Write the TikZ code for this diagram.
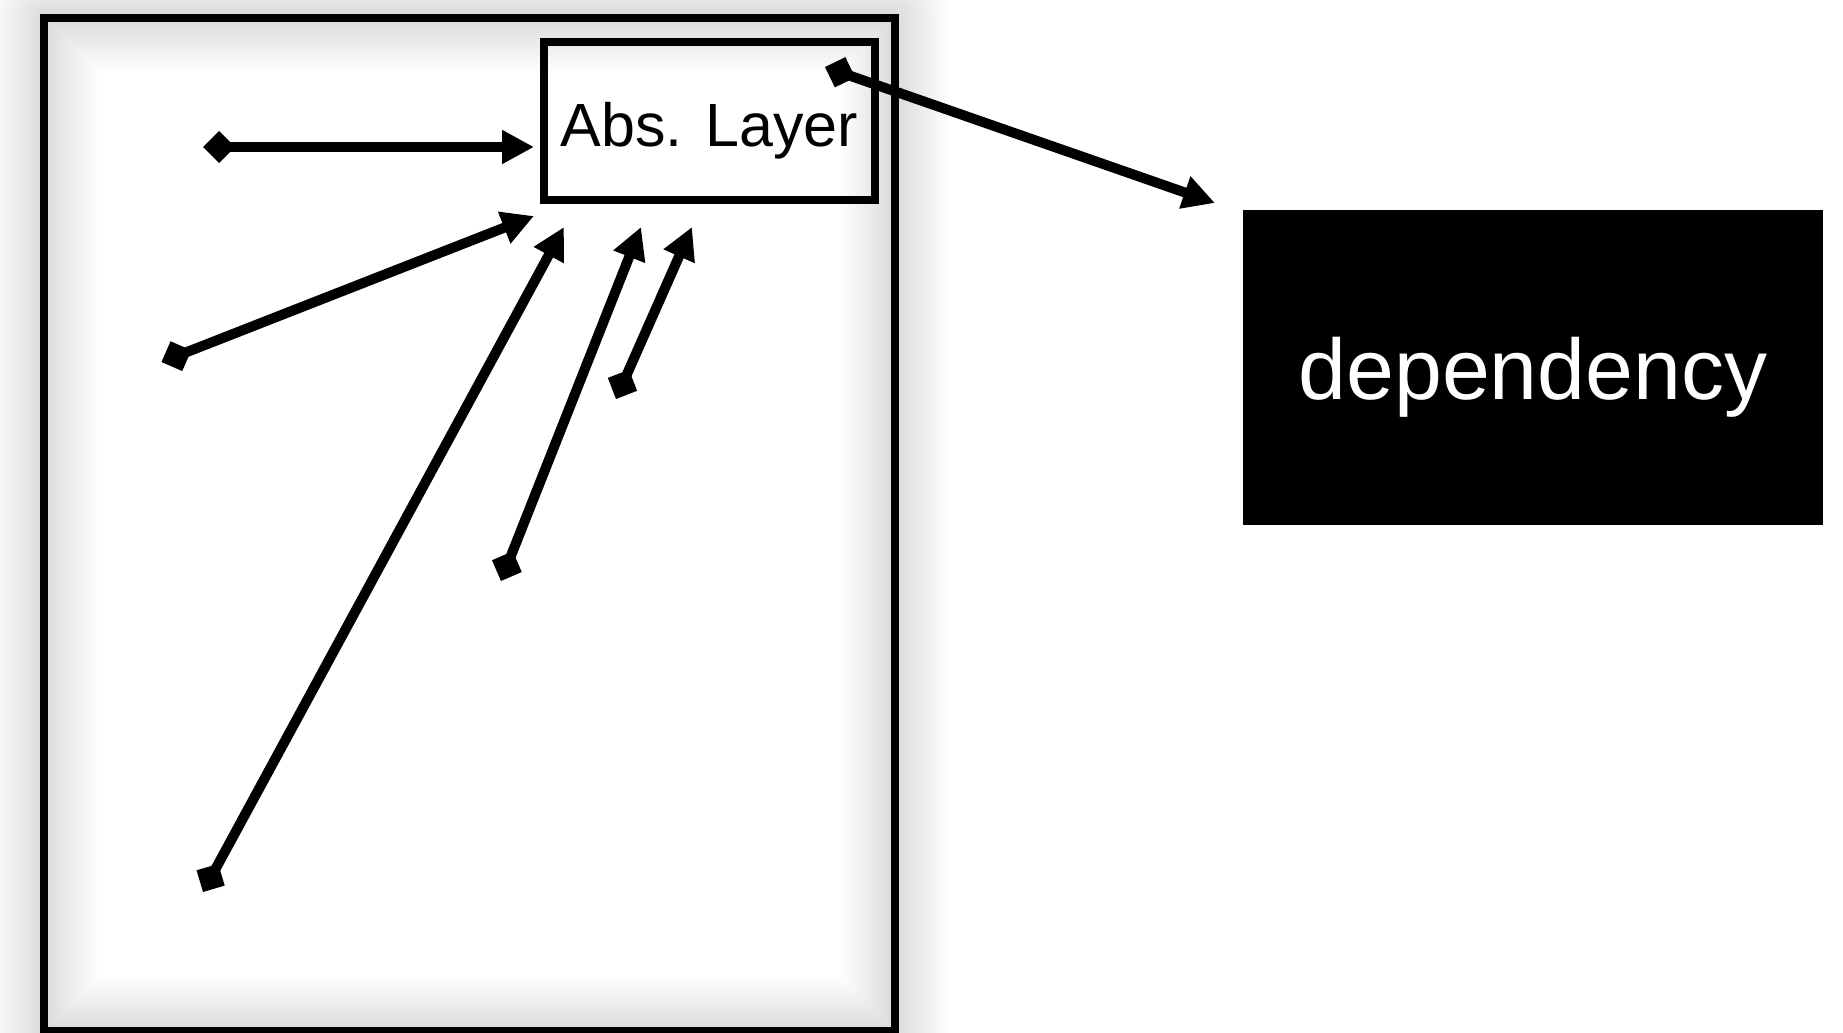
\documentclass[tikz,border=0pt]{standalone}
\usepackage{fontspec}
\setmainfont{Liberation Sans}
\usetikzlibrary{arrows.meta}
\begin{document}
\begin{tikzpicture}[x=0.5pt,y=-0.5pt]
	\tikzset{
		% khung ngoai
		outerbox/.style={draw,line width=4pt},
		% lop Abs.
		layerbox/.style={draw,line width=4pt,minimum width=165.5pt,minimum height=79pt,inner sep=0pt,outer sep=0pt,
			font=\fontsize{30.5pt}{36pt}\selectfont,text height=25.5pt,text depth=0pt},
		% khoi phu thuoc
		depbox/.style={fill=black,text=white,minimum width=290pt,minimum height=157.5pt,inner sep=0pt,
			font=\fontsize{43pt}{50pt}\selectfont,text height=31.5pt,text depth=0pt},
		% mui ten
		link/.style={line width=5pt,{Diamond[length=16pt,width=16pt]}-{Triangle[length=16pt,width=16pt]}},
	}
	\useasboundingbox (0,0) rectangle (1843,1033);
	%
	\coordinate (appnw) at (43.5,18);
	\coordinate (appse) at (895,1031);
	% bong
	\foreach \w in {3,6,...,54}
		\draw[line width=\w pt,line join=round,black,opacity=0.008] (appnw) rectangle (appse);
	\draw[outerbox] (appnw) rectangle (appse);
	%
	\node[layerbox] (abs) at (709.5,121) {Abs. Layer};
	\node[depbox] (depend) at (1533,367.5) {dependency};
	%
	\coordinate (t1) at (203,147);   \coordinate (h1) at (534,147);
	\coordinate (t2) at (161.5,362); \coordinate (h2) at (534,216);
	\coordinate (t3) at (203,892);   \coordinate (h3) at (564,227);
	\coordinate (t4) at (501,581);   \coordinate (h4) at (641,227);
	\coordinate (t5) at (616,399);   \coordinate (h5) at (692,227);
	\coordinate (t6) at (825,67);    \coordinate (h6) at (1215,203);
	%
	\draw[link] (t1)--(h1);
	\draw[link] (t2)--(h2);
	\draw[link] (t3)--(h3);
	\draw[link] (t4)--(h4);
	\draw[link] (t5)--(h5);
	\draw[link] (t6)--(h6);
\end{tikzpicture}
\end{document}
